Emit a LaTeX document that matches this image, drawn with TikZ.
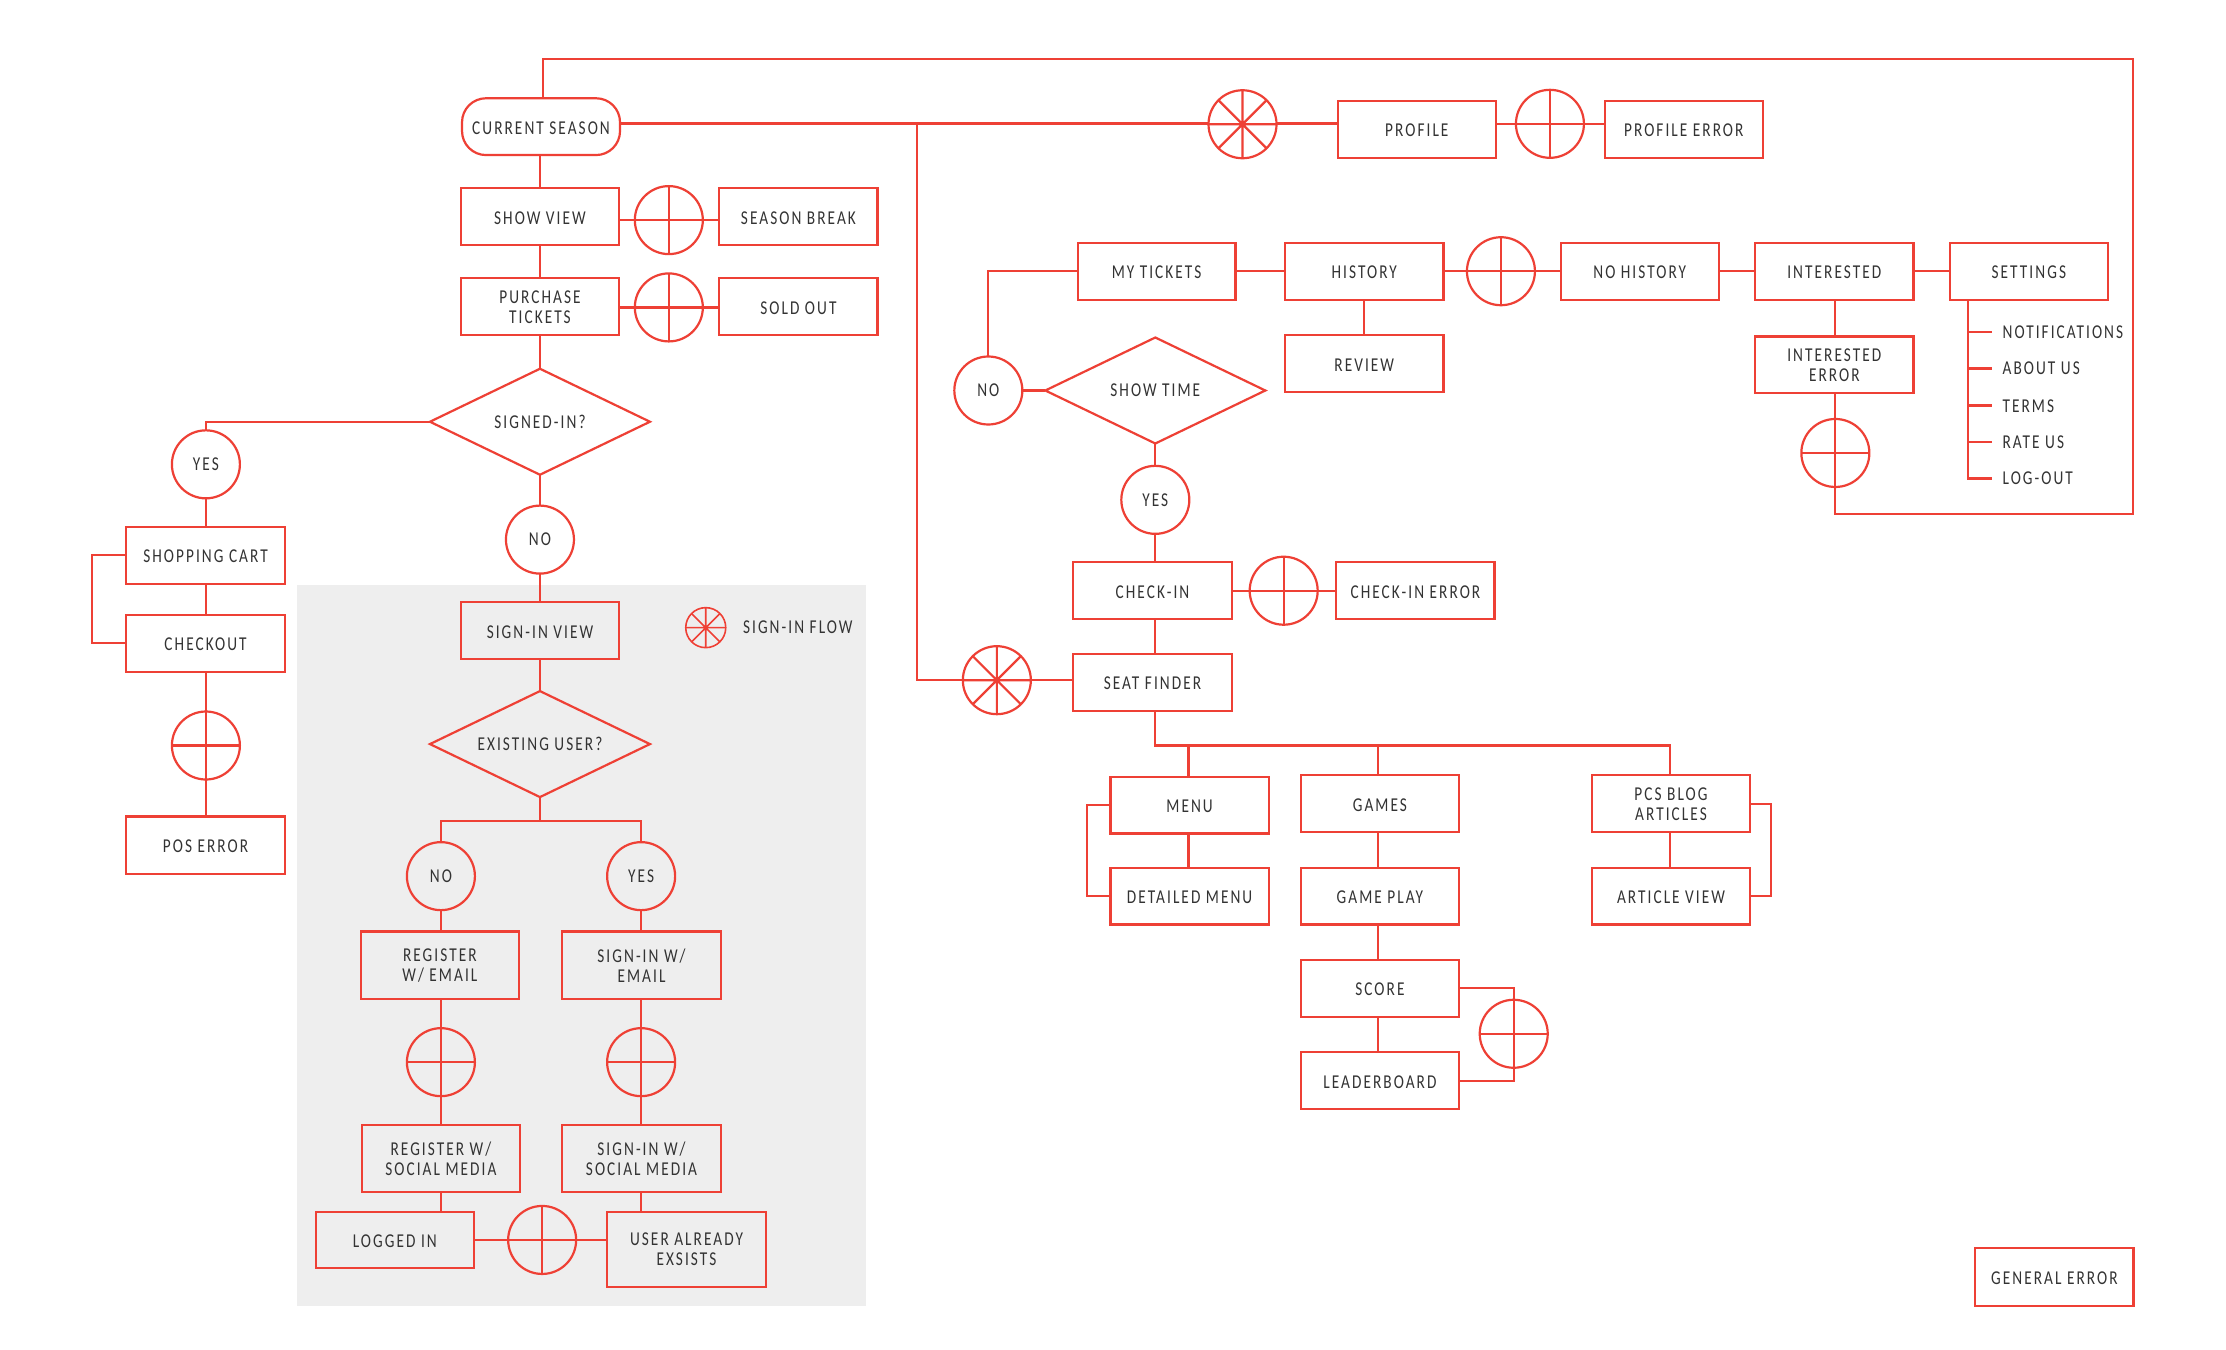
\documentclass[tikz,border=0pt]{standalone}
\usepackage{fontspec}
\setmainfont[FakeStretch=0.78,LetterSpace=10.5]{Carlito}
\usetikzlibrary{shapes.geometric,calc}
\definecolor{flowred}{HTML}{EE4035}
\definecolor{flowgrey}{HTML}{EEEEEE}
\definecolor{flowtext}{HTML}{333333}
\tikzset{
  base/.style={draw=flowred,line width=1.1pt,text=flowtext,inner sep=0pt,outer sep=0pt,align=center,
    font=\fontsize{9.8}{10}\selectfont},
  rectbox/.style={base,rectangle,execute at begin node={\rule{0pt}{7.7pt}}},
  roundbox/.style={base,rectangle,rounded corners=12pt,execute at begin node={\rule{0pt}{7.7pt}}},
  decision/.style={base,diamond,aspect=2.08,minimum width=110pt,minimum height=53pt},
  answer/.style={base,circle,minimum size=34pt},
  crosscirc/.style={base,circle,minimum size=34pt,path picture={
    \draw[flowred,line width=1.1pt] (path picture bounding box.north)--(path picture bounding box.south)
      (path picture bounding box.west)--(path picture bounding box.east);}},
  starcirc/.style={crosscirc,path picture={
    \draw[flowred,line width=1.1pt] (path picture bounding box.north)--(path picture bounding box.south)
      (path picture bounding box.west)--(path picture bounding box.east)
      (path picture bounding box.north west)--(path picture bounding box.south east)
      (path picture bounding box.north east)--(path picture bounding box.south west);}},
  legendcirc/.style={base,circle,minimum size=20pt,line width=0.8pt,path picture={
    \draw[flowred,line width=0.8pt] (path picture bounding box.north)--(path picture bounding box.south)
      (path picture bounding box.west)--(path picture bounding box.east)
      (path picture bounding box.north west)--(path picture bounding box.south east)
      (path picture bounding box.north east)--(path picture bounding box.south west);}},
  link/.style={draw=flowred,line width=1.1pt},
  plain/.style={text=flowtext,inner sep=0pt,font=\fontsize{9.8}{10}\selectfont,anchor=west},
}
\newcommand{\bx}[6]{%
  \pgfmathsetmacro{\cx}{(#2+#4)/2}\pgfmathsetmacro{\cy}{(#3+#5)/2}%
  \pgfmathsetmacro{\wx}{(#4-#2)*0.71}\pgfmathsetmacro{\wy}{(#5-#3)*0.71}%
  \node[rectbox,minimum width=\wx pt,minimum height=\wy pt] (#1) at (\cx,\cy) {#6};}
\begin{document}
\begin{tikzpicture}[x=0.71pt,y=-0.71pt]
\path[fill=white] (0,0) rectangle (1567.6,950.7);
\path[fill=flowgrey] (209,412) rectangle (610,920);
% nodes
\node[roundbox,minimum width=79pt,minimum height=28.4pt] (cur) at (381,89.2) {CURRENT SEASON};
\bx{show}{324.5}{132.5}{436}{172.5}{SHOW VIEW}
\bx{purch}{324.5}{196}{436}{236}{PURCHASE\\TICKETS}
\bx{break}{506.5}{132.5}{618}{172.5}{SEASON BREAK}
\bx{sold}{506.5}{196}{618}{236}{SOLD OUT}
\node[crosscirc] (c1) at (471,155) {};
\node[crosscirc] (c2) at (471,216.5) {};
\node[decision] (signed) at (380.25,297) {SIGNED-IN?};
\node[answer] (yes1) at (145,327) {YES};
\node[answer] (no1) at (380.25,380) {NO};
\bx{cart}{89}{371}{200.5}{411}{SHOPPING CART}
\bx{checkout}{89}{433}{200.5}{473}{CHECKOUT}
\node[crosscirc] (c3) at (145,525) {};
\bx{pos}{89}{575}{200.5}{615.5}{POS ERROR}
\bx{signin}{324.5}{424}{436}{464}{SIGN-IN VIEW}
\node[legendcirc] (legend) at (497,442) {};
\node[plain] (legendtext) at (523,441.5) {SIGN-IN FLOW};
\node[decision] (exist) at (380.25,524) {EXISTING USER?};
\node[answer] (no2) at (310.5,617) {NO};
\node[answer] (yes2) at (451.5,617) {YES};
\bx{reg}{254}{656}{365.5}{703.5}{REGISTER\\W/ EMAIL}
\bx{siemail}{396}{656}{507.5}{703.5}{SIGN-IN W/\\EMAIL}
\node[crosscirc] (c4) at (310.5,748) {};
\node[crosscirc] (c5) at (451.5,748) {};
\bx{regsoc}{255}{792}{366}{839.5}{REGISTER W/\\SOCIAL MEDIA}
\bx{sisoc}{396}{792}{507.5}{839.5}{SIGN-IN W/\\SOCIAL MEDIA}
\bx{logged}{222.3}{853.3}{333.8}{893}{LOGGED IN}
\bx{exists}{427.7}{853.3}{539.2}{906.2}{USER ALREADY\\EXSISTS}
\node[crosscirc] (c6) at (381.8,873.2) {};
\node[starcirc] (s1) at (875,87.5) {};
\bx{profile}{942}{71}{1053.5}{111}{PROFILE}
\node[crosscirc] (c7) at (1091.5,87.2) {};
\bx{proferr}{1130}{71}{1241.5}{111}{PROFILE ERROR}
\bx{tickets}{759}{171}{870}{211}{MY TICKETS}
\bx{history}{905}{171}{1016.5}{211}{HISTORY}
\node[crosscirc] (c8) at (1057,191) {};
\bx{nohist}{1099}{171}{1210.5}{211}{NO HISTORY}
\bx{inter}{1236}{171}{1347.5}{211}{INTERESTED}
\bx{settings}{1373}{171}{1484.5}{211}{SETTINGS}
\bx{review}{905}{236}{1016.5}{276}{REVIEW}
\bx{interr}{1236}{237}{1347.5}{277}{INTERESTED\\ERROR}
\node[crosscirc] (c9) at (1292.5,319) {};
\node[answer] (no3) at (696,275) {NO};
\node[decision] (time) at (813.6,275) {SHOW TIME};
\node[answer] (yes3) at (813.6,352) {YES};
\bx{checkin}{755.8}{396}{867.4}{436}{CHECK-IN}
\node[crosscirc] (c10) at (904,416) {};
\bx{checkerr}{941}{396}{1052.5}{436}{CHECK-IN ERROR}
\node[starcirc] (s2) at (702,479) {};
\bx{seat}{755.8}{460.5}{867.4}{500.5}{SEAT FINDER}
\bx{menu}{782}{547}{893.5}{587}{MENU}
\bx{detail}{782}{611}{893.5}{651}{DETAILED MENU}
\bx{games}{916}{546}{1027.5}{586}{GAMES}
\bx{play}{916}{611}{1027.5}{651}{GAME PLAY}
\bx{score}{916}{676}{1027.5}{716}{SCORE}
\bx{leader}{916}{741}{1027.5}{781}{LEADERBOARD}
\node[crosscirc] (c11) at (1066,728) {};
\bx{blog}{1121}{546}{1232.5}{586}{PCS BLOG\\ARTICLES}
\bx{article}{1121}{611}{1232.5}{651}{ARTICLE VIEW}
\bx{general}{1391}{879}{1502.5}{919.5}{GENERAL ERROR}
\node[plain] (n1) at (1410,234) {NOTIFICATIONS};
\node[plain] (n2) at (1410,259.5) {ABOUT US};
\node[plain] (n3) at (1410,286) {TERMS};
\node[plain] (n4) at (1410,311.5) {RATE US};
\node[plain] (n5) at (1410,337) {LOG-OUT};
% free ends
\coordinate (curtop) at (382.5,69.2);
\coordinate (trunk) at (646,87);
\coordinate (settop) at (1386,211);
\coordinate (seatdown) at (813.6,500.5);
\coordinate (bus) at (813.6,525);
\coordinate (existbus) at (380.25,578);
\coordinate (gx) at (970.5,600);
\coordinate (mx) at (837,560);
\coordinate (ax) at (1176,560);
% connectors
\begin{scope}[link]
\draw (curtop) |- (1502,41.5) |- (1292.5,362) -- (c9.south);
\draw (cur.east |- trunk) -- (s1.west |- trunk);
\draw (trunk) |- (s2.west);
\draw (s2.east) -- (seat.west |- s2.east);
\draw (s1.east |- trunk) -- (profile.west |- trunk);
\draw (profile.east |- c7.west) -- (c7.west);
\draw (c7.east) -- (proferr.west |- c7.east);
\draw (show.north |- cur.south) -- (show.north);
\draw (show.south) -- (purch.north);
\draw (purch.south) -- (signed.north);
\draw (show.east |- c1.west) -- (c1.west);
\draw (c1.east) -- (break.west |- c1.east);
\draw (purch.east |- c2.west) -- (c2.west);
\draw (c2.east) -- (sold.west |- c2.east);
\draw (signed.west) -| (yes1.north);
\draw (signed.south) -- (no1.north);
\draw (no1.south) -- (signin.north -| no1.south);
\draw (yes1.south) -- (cart.north -| yes1.south);
\draw (cart.south -| yes1.south) -- (checkout.north -| yes1.south);
\draw (checkout.south -| c3.north) -- (c3.north);
\draw (c3.south) -- (pos.north -| c3.south);
\draw (cart.west) -- ++(-24,0) |- (checkout.west);
\draw (signin.south -| exist.north) -- (exist.north);
\draw (exist.south) -- (existbus);
\draw (no2.north) |- (existbus) -| (yes2.north);
\draw (no2.south) -- (no2.south |- reg.north);
\draw (yes2.south) -- (yes2.south |- siemail.north);
\draw (c4.north |- reg.south) -- (c4.north);
\draw (c5.north |- siemail.south) -- (c5.north);
\draw (c4.south) -- (c4.south |- regsoc.north);
\draw (c5.south) -- (c5.south |- sisoc.north);
\draw (c4.south |- regsoc.south) -- (c4.south |- logged.north);
\draw (c5.south |- sisoc.south) -- (c5.south |- exists.north);
\draw (logged.east |- c6.west) -- (c6.west);
\draw (c6.east) -- (exists.west |- c6.east);
\draw (tickets.east) -- (history.west);
\draw (history.east) -- (c8.west);
\draw (c8.east) -- (nohist.west);
\draw (nohist.east) -- (inter.west);
\draw (inter.east) -- (settings.west);
\draw (history.south) -- (review.north);
\draw (c9.north |- inter.south) -- (c9.north |- interr.north);
\draw (interr.south -| c9.north) -- (c9.north);
\draw (tickets.west) -| (no3.north);
\draw (no3.east) -- (time.west);
\draw (time.south) -- (yes3.north);
\draw (yes3.south) -- (yes3.south |- checkin.north);
\draw (yes3.south |- checkin.south) -- (yes3.south |- seat.north);
\draw (checkin.east) -- (c10.west);
\draw (c10.east) -- (checkerr.west);
\draw (seatdown) -- (bus) -| (blog.north -| ax);
\draw (bus -| mx) -- (menu.north -| mx);
\draw (bus -| gx) -- (games.north -| gx);
\draw (menu.south -| mx) -- (detail.north -| mx);
\draw (menu.west) -- ++(-16.5,0) |- (detail.west);
\draw (games.south -| gx) -- (play.north -| gx);
\draw (play.south -| gx) -- (score.north -| gx);
\draw (score.south -| gx) -- (leader.north -| gx);
\draw (score.east) -| (c11.north);
\draw (c11.south) |- (leader.east);
\draw (blog.south -| ax) -- (article.north -| ax);
\draw (blog.east) -- ++(14.5,0) |- (article.east);
\draw (settop) |- (1403,337);
\draw (1386,234) -- (1403,234);
\draw (1386,259.5) -- (1403,259.5);
\draw (1386,285.5) -- (1403,285.5);
\draw (1386,311) -- (1403,311);
\end{scope}
\end{tikzpicture}
\end{document}
